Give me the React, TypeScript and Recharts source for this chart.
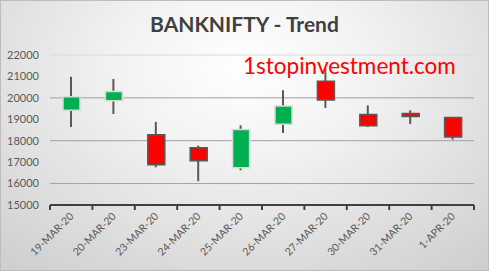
import React from "react";
import { ComposedChart, Bar, Cell, XAxis, YAxis, CartesianGrid } from "recharts";

const dates = ["19-MAR-20", "20-MAR-20", "23-MAR-20", "24-MAR-20", "25-MAR-20", "26-MAR-20", "27-MAR-20", "30-MAR-20", "31-MAR-20", "1-APR-20"];
const opens = [19420, 19860, 18280, 17670, 16740, 18770, 20780, 19220, 19270, 19080];
const highs = [20990, 20880, 18880, 17770, 18720, 20360, 21380, 19650, 19420, 19080];
const lows = [18640, 19250, 16760, 16110, 16620, 18360, 19530, 18640, 18780, 18050];
const closes = [20050, 20300, 16880, 17060, 18520, 19620, 19900, 18700, 19130, 18170];
const yTicks = [15000, 16000, 17000, 18000, 19000, 20000, 21000, 22000];

const W = 489;
const H = 271;
const margin = { top: 55, right: 15, left: 0, bottom: 0 };
const yAxisWidth = 50;
const xAxisHeight = 66;
const FONT = "Lato, 'Open Sans', sans-serif";

const data = dates.map((d, i) => ({
  date: d,
  wick: [lows[i], highs[i]],
  body: [Math.min(opens[i], closes[i]), Math.max(opens[i], closes[i])],
  up: closes[i] >= opens[i],
}));

const band = (W - margin.left - margin.right - yAxisWidth) / data.length;

const XTick = (props: any) => {
  const { x, y, payload, index } = props;
  const last = index === data.length - 1;
  return (
    <g>
      <line x1={x - band / 2} y1={y} x2={x - band / 2} y2={y + 5} stroke="#404040" strokeWidth={2} />
      {last && <line x1={x + band / 2} y1={y} x2={x + band / 2} y2={y + 5} stroke="#404040" strokeWidth={2} />}
      <text
        x={x + 3}
        y={y + 12}
        transform={`rotate(-45 ${x + 3} ${y + 12})`}
        textAnchor="end"
        fontSize={10.5}
        fill="#595959"
        fontFamily={FONT}
      >
        {payload.value}
      </text>
    </g>
  );
};

const GridLine = (props: any) => {
  const { x1, x2, y1, y2 } = props;
  const top = y1 < margin.top + 2;
  return <line x1={x1} x2={x2} y1={y1} y2={y2} stroke={top ? "#d9d9d9" : "#a0a0a0"} strokeWidth={1} />;
};

export default function App() {
  return (
    <div
      style={{
        position: "absolute",
        left: 0,
        top: 0,
        width: W,
        height: H,
        background: "radial-gradient(ellipse 75% 95% at 50% 25%, #ffffff 0%, #f2f2f2 35%, #cfcfcf 100%)",
        boxShadow: "inset 0 0 0 1px #bdbdbd",
        fontFamily: FONT,
      }}
    >
      <div
        style={{
          position: "absolute",
          left: 0,
          width: W,
          top: 11,
          textAlign: "center",
          fontSize: 21,
          fontWeight: 700,
          color: "#404040",
          fontFamily: FONT,
        }}
      >
        BANKNIFTY - Trend
      </div>
      <ComposedChart width={W} height={H} data={data} margin={margin} style={{ position: "absolute", left: 0, top: 0 }}>
        <CartesianGrid vertical={false} horizontal={(p: any) => <GridLine {...p} />} />
        <YAxis
          domain={[15000, 22000]}
          ticks={yTicks}
          width={yAxisWidth}
          axisLine={false}
          tickLine={false}
          tickSize={0}
          tickMargin={11}
          tick={{ fontSize: 11, fill: "#595959", fontFamily: FONT }}
        />
        <XAxis
          xAxisId="main"
          dataKey="date"
          height={xAxisHeight}
          axisLine={{ stroke: "#404040", strokeWidth: 2 }}
          tickLine={false}
          tickSize={0}
          tickMargin={0}
          interval={0}
          tick={<XTick />}
        />
        <XAxis xAxisId="wick" dataKey="date" hide />
        <Bar xAxisId="wick" dataKey="wick" barSize={2} fill="#595959" isAnimationActive={false} />
        <Bar xAxisId="main" dataKey="body" barSize={17} isAnimationActive={false}>
          {data.map((d, i) => (
            <Cell key={i} fill={d.up ? "#00b050" : "#ff0000"} stroke={d.up ? "#d9d9d9" : "#595959"} strokeWidth={1.5} />
          ))}
        </Bar>
      </ComposedChart>
      <div
        style={{
          position: "absolute",
          left: 243,
          top: 52,
          fontSize: 22.5,
          color: "#ff0000",
          fontFamily: FONT,
          whiteSpace: "nowrap",
        }}
      >
        1stopinvestment.com
      </div>
    </div>
  );
}
